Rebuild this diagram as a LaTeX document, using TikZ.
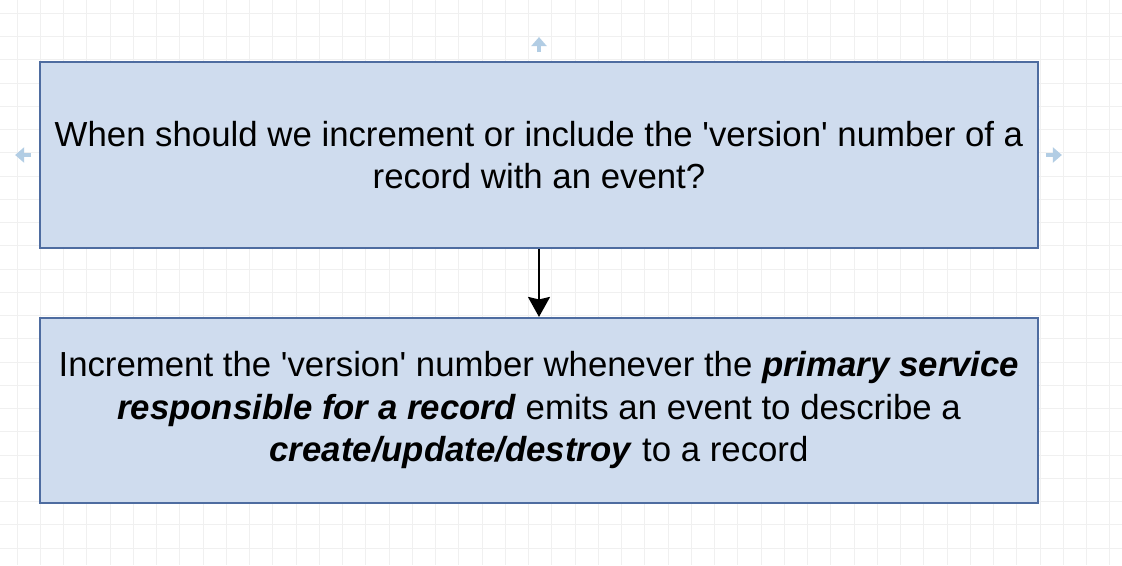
\documentclass[tikz,border=0pt]{standalone}
\usepackage{fontspec}
\setmainfont{Liberation Sans}
\usepackage{tikz}
\usetikzlibrary{arrows.meta,positioning}
\definecolor{paleblue}{RGB}{207,220,238}
\definecolor{edgeblue}{RGB}{78,108,160}
\definecolor{hintblue}{RGB}{178,205,228}
\definecolor{gridgray}{RGB}{240,240,240}

\begin{document}
\begin{tikzpicture}
  [x=0.02cm, y=-0.02cm,
  block/.style={rectangle, minimum width=19.96cm, minimum height=3.72cm, text centered, align=center, draw=edgeblue, fill=paleblue, line width=1.1pt, font=\fontsize{19.8}{24.2}\selectfont},
  hint/.style={draw=hintblue, line width=2.6pt, -{Triangle[width=0.3cm,length=0.18cm]}}]
  \fill[white] (0,0) rectangle (1122,565);
  \useasboundingbox (0,0) rectangle (1122,565);
  % background grid
  \foreach \gx in {0,...,47}
    \draw[gridgray, line width=0.5pt] (17+\gx*23.25,0) -- (17+\gx*23.25,565);
  \foreach \gy in {0,...,23}
    \draw[gridgray, line width=0.5pt] (0,13.25+\gy*23.25) -- (1122,13.25+\gy*23.25);

  \node (when) at (539,155) [block] {When should we increment or include the \textquotesingle version\textquotesingle\ number of a\\record with an event?};
  \node (rule) [block, below=1.36cm of when, minimum height=3.7cm] {Increment the \textquotesingle version\textquotesingle\ number whenever the \textbf{\textit{primary service}}\\\textbf{\textit{responsible for a record}} emits an event to describe a\\\textbf{\textit{create/update/destroy}} to a record};
  \draw[line width=1.2pt, -{Stealth[width=0.44cm,length=0.4cm,inset=0.05cm]}] (when) -- (rule);

  % hover hints
  \draw[hint] ([yshift=0.18cm]when.north) -- ++(0,-15);
  \draw[hint] ([xshift=-0.16cm]when.west) -- ++(-16,0);
  \draw[hint] ([xshift=0.14cm]when.east) -- ++(16,0);
\end{tikzpicture}
\end{document}
